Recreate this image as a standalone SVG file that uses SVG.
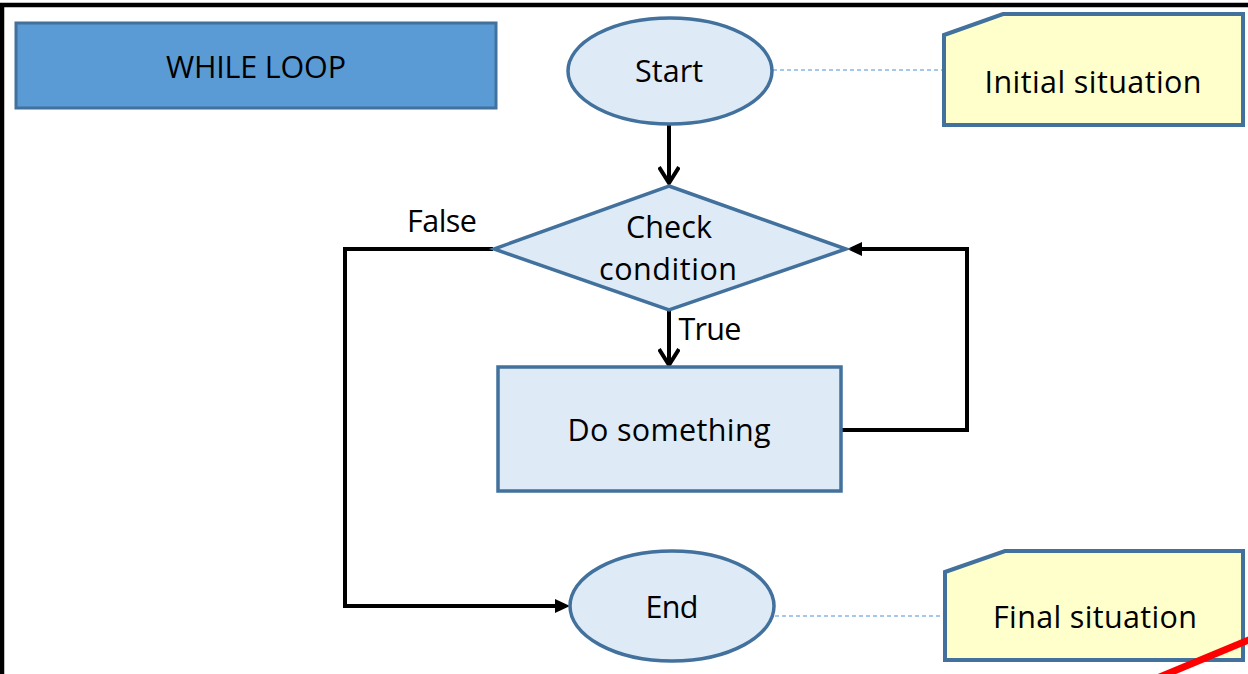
<svg xmlns="http://www.w3.org/2000/svg" width="1248" height="674" viewBox="0 0 1248 674">
  <style>
    .lbl { font-family: "Open Sans", "Liberation Sans", sans-serif; font-size: 30.5px; fill: #000; text-anchor: middle; }
    .shape { fill: #DEEAF6; stroke: #41719C; stroke-width: 3.5; }
    .note { fill: #FFFFCC; stroke: #41719C; stroke-width: 4; }
    .flow { fill: none; stroke: #000; stroke-width: 4; }
    .link { fill: none; stroke: #4A90D9; stroke-width: 1.2; stroke-dasharray: 4 3; }
  </style>
  <defs>
    <marker id="vee" markerUnits="userSpaceOnUse" viewBox="0 0 22 22" markerWidth="22" markerHeight="22" refX="18" refY="11" orient="auto">
      <path d="M2,1 L18,11 L2,21" fill="none" stroke="#000" stroke-width="4"/>
    </marker>
    <marker id="tri" markerUnits="userSpaceOnUse" viewBox="0 0 16 16" markerWidth="16" markerHeight="16" refX="4" refY="8" orient="auto">
      <path d="M0,1 L15,8 L0,15 z" fill="#000"/>
    </marker>
  </defs>

  <rect width="1248" height="674" fill="#fff"/>
  <!-- outer frame -->
  <path d="M2,674 V5 H1248" fill="none" stroke="#000" stroke-width="4.5"/>

  <g id="title">
    <rect x="16" y="23" width="480" height="85" fill="#5B9BD5" stroke="#41719C" stroke-width="3"/>
    <text class="lbl" x="256" y="78" textLength="180">WHILE LOOP</text>
  </g>

  <g id="connectors">
    <line class="link" x1="773" y1="70" x2="943" y2="70"/>
    <line class="link" x1="775" y1="616" x2="945" y2="616"/>
    <line class="flow" x1="669" y1="125" x2="669" y2="183" marker-end="url(#vee)"/>
    <line class="flow" x1="669" y1="311" x2="669" y2="365" marker-end="url(#vee)"/>
    <path class="flow" d="M842,430 H967 V249 H858" marker-end="url(#tri)"/>
    <path class="flow" d="M493,249 H345 V606 H559" marker-end="url(#tri)"/>
    <text class="lbl" x="710" y="340" textLength="63">True</text>
    <text class="lbl" x="442" y="232" textLength="70">False</text>
  </g>

  <g id="start">
    <ellipse class="shape" cx="670" cy="71" rx="102" ry="53"/>
    <text class="lbl" x="669" y="82" textLength="68">Start</text>
  </g>

  <g id="initial">
    <path class="note" d="M944,35 L1003,14 H1243 V125 H944 Z"/>
    <text class="lbl" x="1093" y="93" textLength="217">Initial situation</text>
  </g>

  <g id="check">
    <path class="shape" d="M669,186 L846,249 L669,310 L494,249 Z"/>
    <text class="lbl" x="669" y="238" textLength="86">Check</text>
    <text class="lbl" x="668" y="280" textLength="138">condition</text>
  </g>

  <g id="action">
    <rect class="shape" x="498" y="367" width="343" height="124"/>
    <text class="lbl" x="669" y="441" textLength="203">Do something</text>
  </g>

  <g id="end">
    <ellipse class="shape" cx="672" cy="606" rx="102" ry="55"/>
    <text class="lbl" x="672" y="618" textLength="53">End</text>
  </g>

  <g id="final">
    <path class="note" d="M945,572 L1005,551 H1243 V660 H945 Z"/>
    <text class="lbl" x="1095" y="628" textLength="204">Final situation</text>
  </g>

  <!-- red stroke across the lower right corner -->
  <line x1="1150" y1="681" x2="1256" y2="637" stroke="#FF0000" stroke-width="7"/>
</svg>
